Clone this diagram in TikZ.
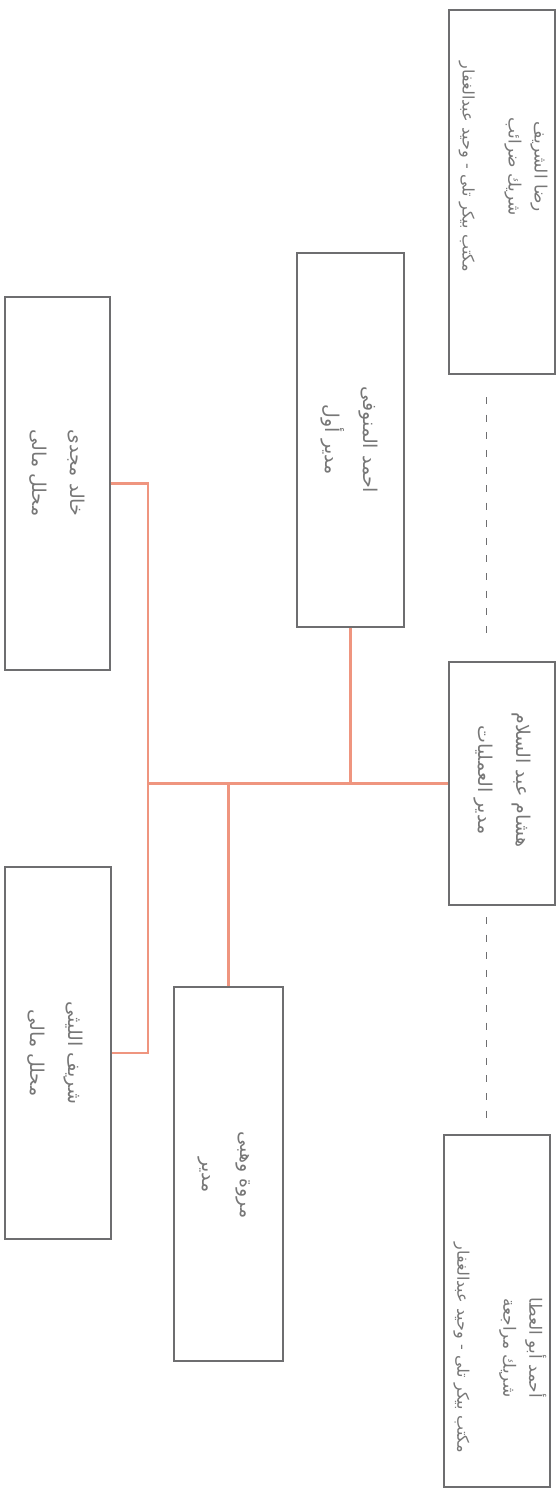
\documentclass[tikz,border=0pt]{standalone}
\usepackage{fontspec}
\newfontfamily\arabicfont[Script=Arabic]{DejaVu Sans}
\TeXXeTstate=1
\definecolor{boxgray}{HTML}{6E6E70}
\definecolor{txtgray}{HTML}{777777}
\definecolor{conn}{HTML}{EF957F}
\begin{document}
\begin{tikzpicture}[x=1pt,y=-1pt,
  box/.style={draw=boxgray, line width=1.3pt, rectangle, inner sep=0pt},
  lblthree/.style={rotate=-90, font=\arabicfont\fontsize{17}{26}\selectfont, text=txtgray, align=center, inner sep=0pt},
  lbltwo/.style={rotate=-90, font=\arabicfont\fontsize{19}{38}\selectfont, text=txtgray, align=center, inner sep=0pt},
  link/.style={draw=conn, line width=2.2pt},
  dashline/.style={draw=boxgray, line width=1pt, dash pattern=on 7pt off 10.6pt}
]
\useasboundingbox (0,0) rectangle (556,1488);

% boxes
\node[box, minimum width=106pt, minimum height=364pt] (b1) at (502,192) {};
\node[box, minimum width=107pt, minimum height=374pt] (b2) at (350.5,440) {};
\node[box, minimum width=105pt, minimum height=373pt] (b3) at (57.5,483.5) {};
\node[box, minimum width=106pt, minimum height=372pt] (b4) at (58,1053) {};
\node[box, minimum width=109pt, minimum height=374pt] (b5) at (228.5,1174) {};
\node[box, minimum width=106pt, minimum height=243pt] (bm) at (502,783.5) {};
\node[box, minimum width=106pt, minimum height=352pt] (b6) at (497,1311) {};

% texts
\node[lblthree] (t1) at (503,167) {\beginR رضا الشريف\endR\\ \beginR شريك ضرائب\endR\\[20pt] {\fontsize{16}{26}\selectfont\beginR مكتب بيكر تلى - وحيد عبدالغفار\endR}};
\node[lbltwo] (t2) at (349,440) {\beginR احمد المنوفى\endR\\ \beginR مدير أول\endR};
\node[lbltwo] (t3) at (57.5,473) {\beginR خالد مجدى\endR\\ \beginR محلل مالى\endR};
\node[lbltwo] (t4) at (55,1053) {\beginR شريف الليثى\endR\\ \beginR محلل مالى\endR};
\node[lbltwo] (t5) at (224,1175) {\beginR مروة وهبى\endR\\ \beginR مدير\endR};
\node[lbltwo] (tm) at (502,780) {\beginR هشام عبد السلام\endR\\ \beginR مدير العمليات\endR};
\node[lblthree] (t6) at (500,1348) {\beginR أحمد أبو العطا\endR\\ \beginR شريك مراجعة\endR\\[20pt] {\fontsize{16}{26}\selectfont\beginR مكتب بيكر تلى - وحيد عبدالغفار\endR}};

% connectors
\coordinate (jL) at (148,783.5);
\draw[link] (b3.east) -| (jL) |- (b4.east);
\draw[link] (jL) -- (bm.west);
\draw[link] (b2.south) -- (b2.south |- bm.west);
\draw[link] (b5.north) -- (b5.north |- jL);

% dashed lines
\coordinate (d1a) at (486,397);
\coordinate (d1b) at (486,637);
\coordinate (d2a) at (486,917);
\coordinate (d2b) at (486,1123);
\draw[dashline] (d1a) -- (d1b);
\draw[dashline] (d2a) -- (d2b);
\end{tikzpicture}
\end{document}
